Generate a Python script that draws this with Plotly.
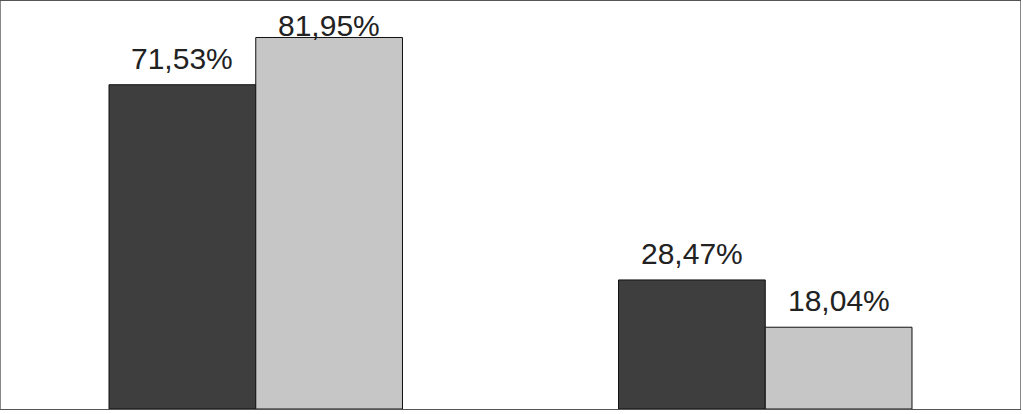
import plotly.graph_objects as go

categories = ["A", "B"]
series_dark = [71.53, 28.47]
series_light = [81.95, 18.04]
labels_dark = ["71,53%", "28,47%"]
labels_light = ["81,95%", "18,04%"]

YMAX = 90
BARGAP = 0.424
half = (1 - BARGAP) / 4  # center offset of each bar within a group

fig = go.Figure()
fig.add_trace(go.Bar(
    x=categories, y=series_dark, name="s1",
    marker=dict(color="#3e3e3e", line=dict(color="#111111", width=1)),
))
fig.add_trace(go.Bar(
    x=categories, y=series_light, name="s2",
    marker=dict(color="#c6c6c6", line=dict(color="#111111", width=1)),
))

annotations = []
for i in range(len(categories)):
    for off, val, lab in ((-half, series_dark[i], labels_dark[i]), (half, series_light[i], labels_light[i])):
        # labels near the top of the plot area are pushed down to stay inside it
        shift = 8 if val < YMAX - 10 else -7
        annotations.append(dict(
            x=i + off, y=val, xref="x", yref="y", text=lab, showarrow=False,
            yanchor="bottom", yshift=shift,
            font=dict(family="Liberation Sans, Arial, sans-serif", size=30, color="#222222"),
        ))

fig.update_layout(
    width=1023, height=414,
    margin=dict(l=1, r=3, t=1, b=5),
    paper_bgcolor="white", plot_bgcolor="white",
    barmode="group", bargap=BARGAP, bargroupgap=0,
    showlegend=False,
    annotations=annotations,
    xaxis=dict(range=[-0.5, 1.5], showticklabels=False, ticks="", showgrid=False,
               showline=True, linecolor="#555555", linewidth=1, mirror=True, zeroline=False),
    yaxis=dict(range=[0, YMAX], showticklabels=False, ticks="", showgrid=False,
               showline=True, linecolor="#888888", linewidth=1, mirror=True, zeroline=False),
)

fig.write_html("out.html", config={"displayModeBar": False, "staticPlot": True})
with open("out.html", encoding="utf-8") as f:
    html = f.read()
html = html.replace("<head>", "<head><style>html,body{margin:0;padding:0;overflow:hidden}</style>", 1)
with open("out.html", "w", encoding="utf-8") as f:
    f.write(html)
